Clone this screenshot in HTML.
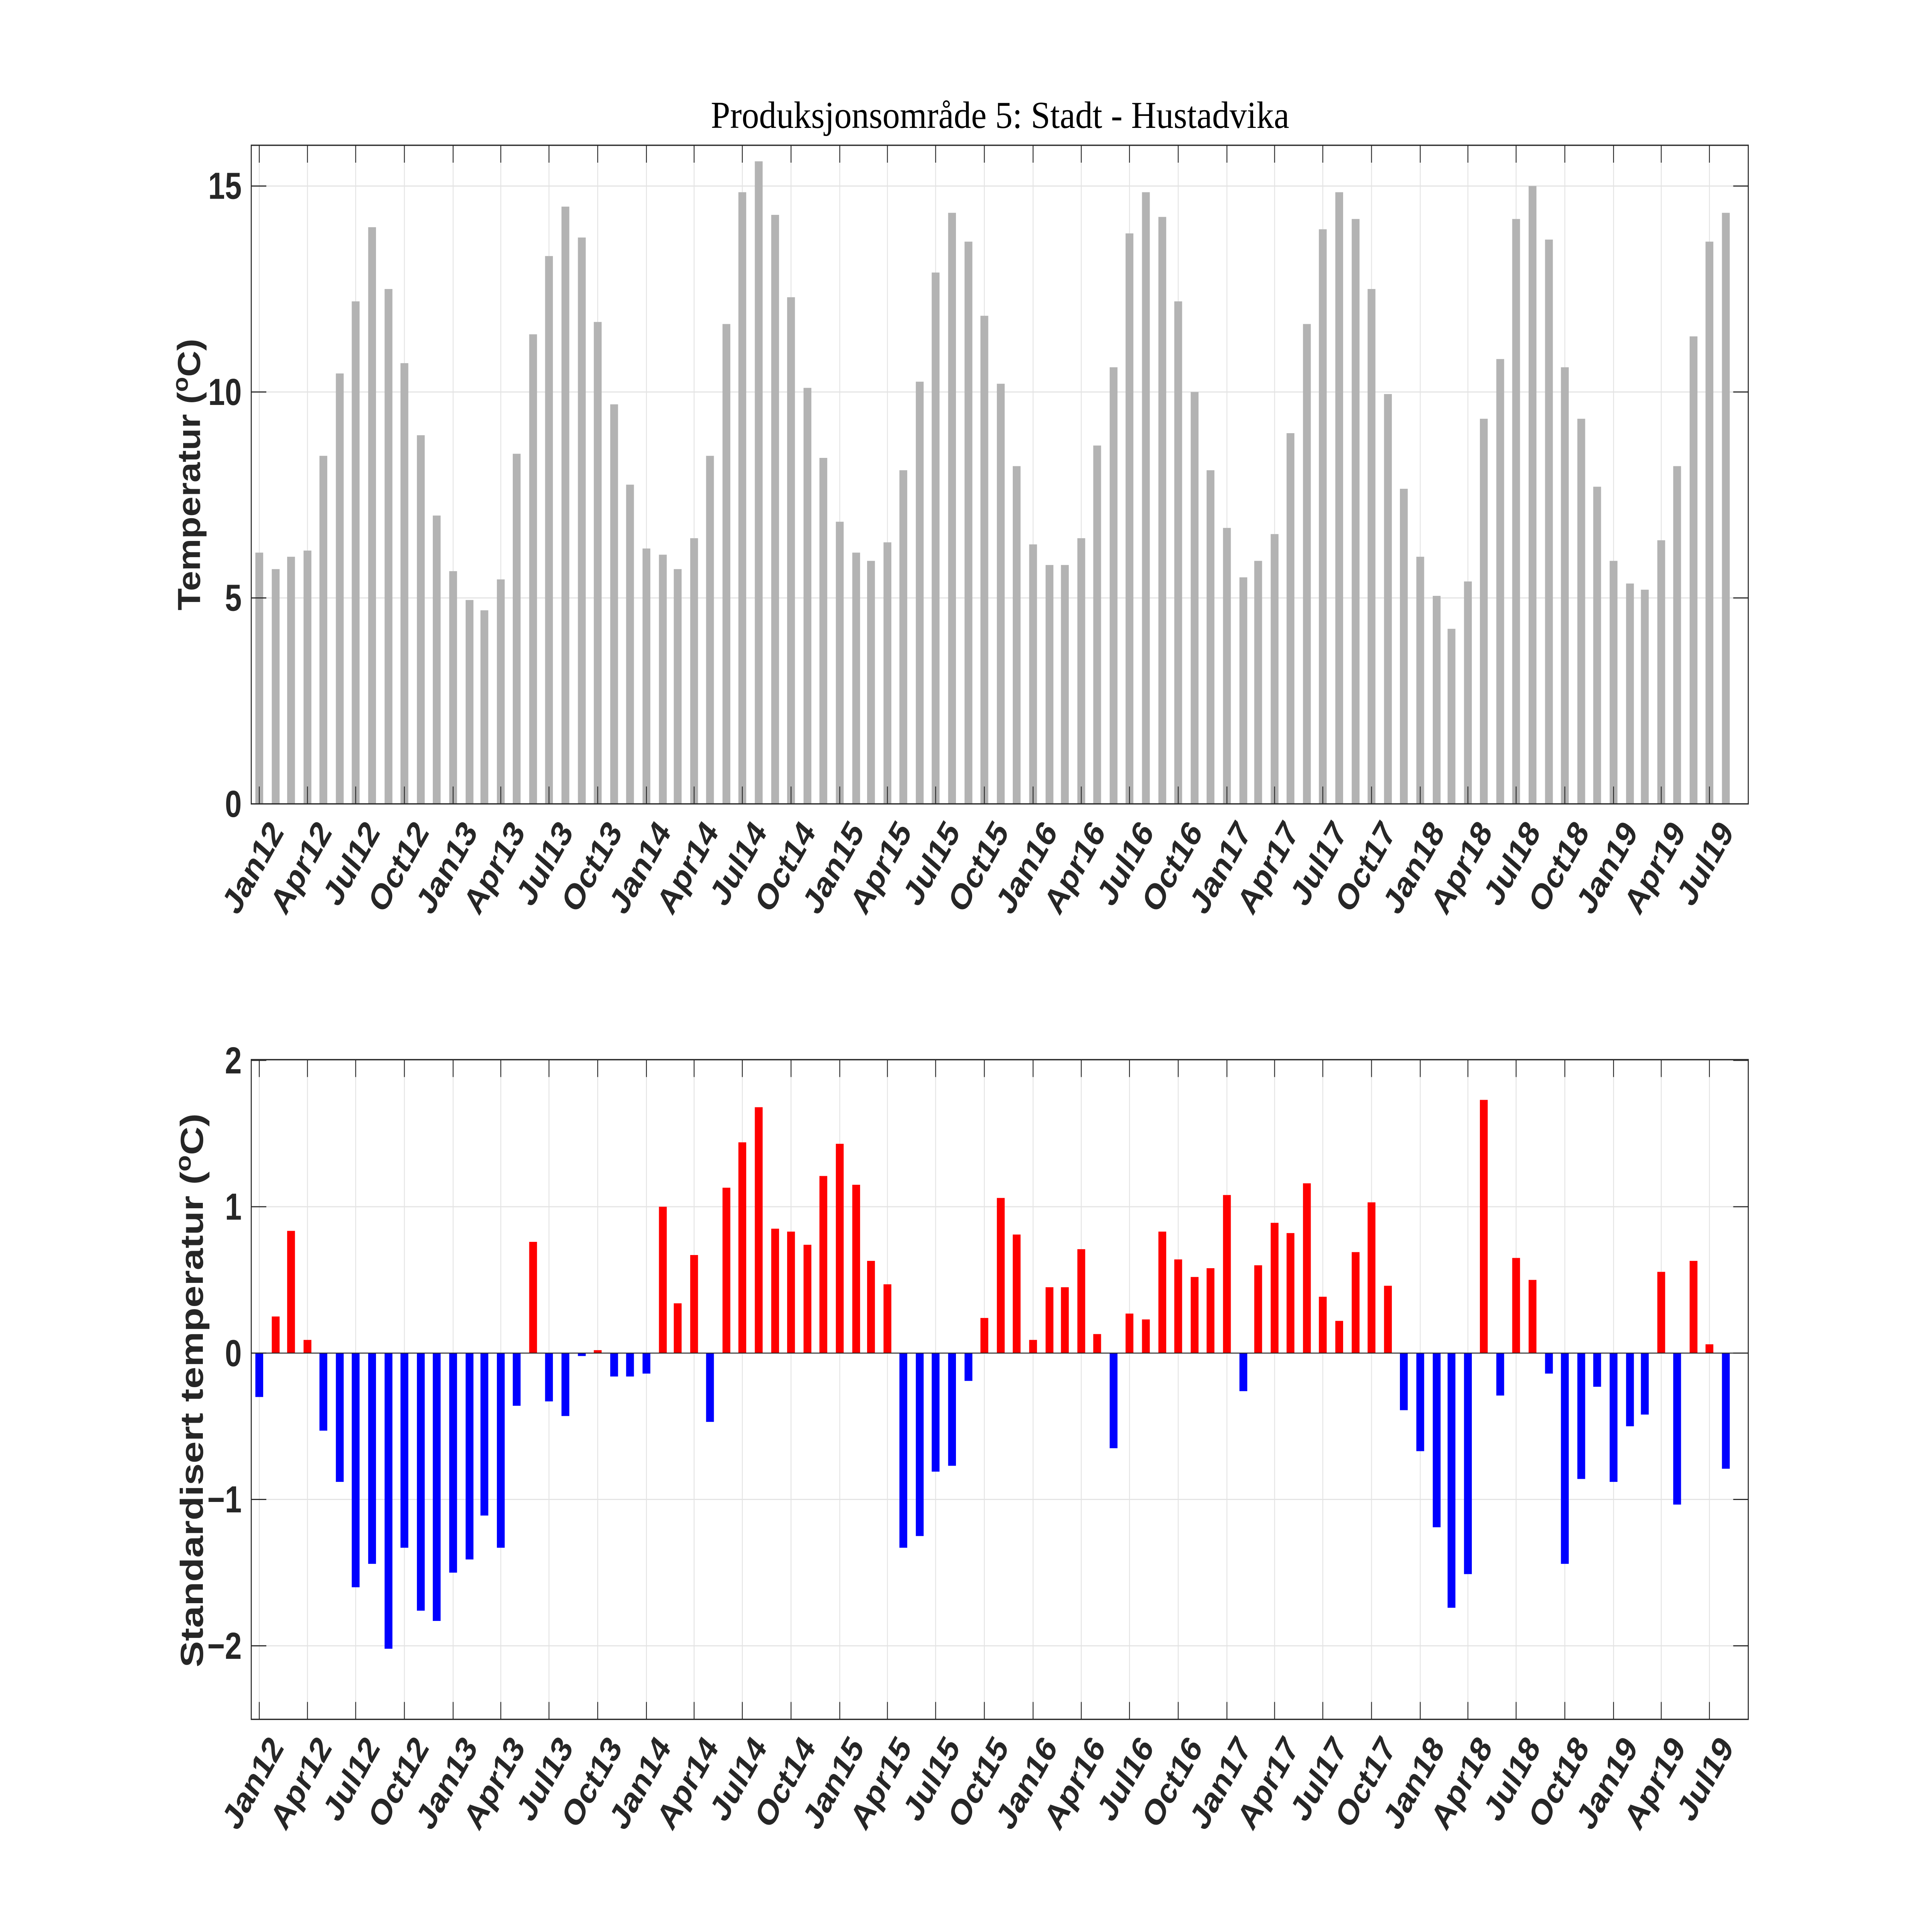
<!DOCTYPE html>
<html><head><meta charset="utf-8"><style>html,body{margin:0;padding:0;background:#fff;width:100%;height:100%;overflow:hidden}svg{display:block;position:absolute;left:0;top:0;width:100vw;height:100vh}</style></head>
<body>
<svg id="s" xmlns="http://www.w3.org/2000/svg" viewBox="0 0 6667 5333" preserveAspectRatio="none">
<rect x="0" y="0" width="6667" height="5333" fill="#fff"/>
<g id="grid"></g>
<g id="bars"></g>
<g id="axes"></g>
<text x="3451" y="353" font-family="Liberation Serif, serif" font-size="105" text-anchor="middle" textLength="1996" lengthAdjust="spacingAndGlyphs" fill="#000">Produksjonsområde 5: Stadt - Hustadvika</text>
<g font-family="Liberation Sans, Arial, sans-serif" font-weight="bold" font-size="104" fill="#262626" text-anchor="end" dominant-baseline="central">
<text x="834" y="2219">0</text><text x="834" y="1650">5</text><text x="834" y="1082">10</text><text x="834" y="513">15</text>
<text x="834" y="2927">2</text><text x="834" y="3331">1</text><text x="834" y="3735">0</text><text x="834" y="4139">−1</text><text x="834" y="4543">−2</text>
</g>
<g font-family="Liberation Sans, Arial, sans-serif" font-weight="bold" font-size="110" fill="#262626" text-anchor="middle">
<text transform="translate(690,1310) rotate(-90)" textLength="750" lengthAdjust="spacingAndGlyphs">Temperatur (<tspan font-size="75" dy="-42">o</tspan><tspan dy="42">C)</tspan></text>
<text transform="translate(700,3838) rotate(-90)" textLength="1529" lengthAdjust="spacingAndGlyphs">Standardisert temperatur (<tspan font-size="75" dy="-42">o</tspan><tspan dy="42">C)</tspan></text>
</g>
<g id="xl" font-family="Liberation Sans, Arial, sans-serif" font-weight="bold" font-size="100" fill="#262626" text-anchor="end">
<text transform="translate(982,2298) rotate(-55)">Jan12</text>
<text transform="translate(1148,2298) rotate(-55)">Apr12</text>
<text transform="translate(1314,2298) rotate(-55)">Jul12</text>
<text transform="translate(1483,2298) rotate(-55)">Oct12</text>
<text transform="translate(1651,2298) rotate(-55)">Jan13</text>
<text transform="translate(1815,2298) rotate(-55)">Apr13</text>
<text transform="translate(1981,2298) rotate(-55)">Jul13</text>
<text transform="translate(2150,2298) rotate(-55)">Oct13</text>
<text transform="translate(2318,2298) rotate(-55)">Jan14</text>
<text transform="translate(2482,2298) rotate(-55)">Apr14</text>
<text transform="translate(2649,2298) rotate(-55)">Jul14</text>
<text transform="translate(2817,2298) rotate(-55)">Oct14</text>
<text transform="translate(2985,2298) rotate(-55)">Jan15</text>
<text transform="translate(3149,2298) rotate(-55)">Apr15</text>
<text transform="translate(3316,2298) rotate(-55)">Jul15</text>
<text transform="translate(3484,2298) rotate(-55)">Oct15</text>
<text transform="translate(3652,2298) rotate(-55)">Jan16</text>
<text transform="translate(3818,2298) rotate(-55)">Apr16</text>
<text transform="translate(3985,2298) rotate(-55)">Jul16</text>
<text transform="translate(4153,2298) rotate(-55)">Oct16</text>
<text transform="translate(4321,2298) rotate(-55)">Jan17</text>
<text transform="translate(4485,2298) rotate(-55)">Apr17</text>
<text transform="translate(4652,2298) rotate(-55)">Jul17</text>
<text transform="translate(4820,2298) rotate(-55)">Oct17</text>
<text transform="translate(4988,2298) rotate(-55)">Jan18</text>
<text transform="translate(5153,2298) rotate(-55)">Apr18</text>
<text transform="translate(5319,2298) rotate(-55)">Jul18</text>
<text transform="translate(5487,2298) rotate(-55)">Oct18</text>
<text transform="translate(5655,2298) rotate(-55)">Jan19</text>
<text transform="translate(5820,2298) rotate(-55)">Apr19</text>
<text transform="translate(5986,2298) rotate(-55)">Jul19</text>
<text transform="translate(982,4825) rotate(-55)">Jan12</text>
<text transform="translate(1148,4825) rotate(-55)">Apr12</text>
<text transform="translate(1314,4825) rotate(-55)">Jul12</text>
<text transform="translate(1483,4825) rotate(-55)">Oct12</text>
<text transform="translate(1651,4825) rotate(-55)">Jan13</text>
<text transform="translate(1815,4825) rotate(-55)">Apr13</text>
<text transform="translate(1981,4825) rotate(-55)">Jul13</text>
<text transform="translate(2150,4825) rotate(-55)">Oct13</text>
<text transform="translate(2318,4825) rotate(-55)">Jan14</text>
<text transform="translate(2482,4825) rotate(-55)">Apr14</text>
<text transform="translate(2649,4825) rotate(-55)">Jul14</text>
<text transform="translate(2817,4825) rotate(-55)">Oct14</text>
<text transform="translate(2985,4825) rotate(-55)">Jan15</text>
<text transform="translate(3149,4825) rotate(-55)">Apr15</text>
<text transform="translate(3316,4825) rotate(-55)">Jul15</text>
<text transform="translate(3484,4825) rotate(-55)">Oct15</text>
<text transform="translate(3652,4825) rotate(-55)">Jan16</text>
<text transform="translate(3818,4825) rotate(-55)">Apr16</text>
<text transform="translate(3985,4825) rotate(-55)">Jul16</text>
<text transform="translate(4153,4825) rotate(-55)">Oct16</text>
<text transform="translate(4321,4825) rotate(-55)">Jan17</text>
<text transform="translate(4485,4825) rotate(-55)">Apr17</text>
<text transform="translate(4652,4825) rotate(-55)">Jul17</text>
<text transform="translate(4820,4825) rotate(-55)">Oct17</text>
<text transform="translate(4988,4825) rotate(-55)">Jan18</text>
<text transform="translate(5153,4825) rotate(-55)">Apr18</text>
<text transform="translate(5319,4825) rotate(-55)">Jul18</text>
<text transform="translate(5487,4825) rotate(-55)">Oct18</text>
<text transform="translate(5655,4825) rotate(-55)">Jan19</text>
<text transform="translate(5820,4825) rotate(-55)">Apr19</text>
<text transform="translate(5986,4825) rotate(-55)">Jul19</text>
</g>
</svg>
<script>
(function(){
var NS="http://www.w3.org/2000/svg";
function el(p,t,a){var e=document.createElementNS(NS,t);for(var k in a)e.setAttribute(k,a[k]);p.appendChild(e);return e;}
var grid=document.getElementById('grid'),bars=document.getElementById('bars'),axes=document.getElementById('axes');
var X0=894.7,PD=1.8277,L=867,R=6033;
function dx(y,m){return X0+PD*(Date.UTC(y,m,1)-Date.UTC(2012,0,1))/86400000;}
var T=[{top:401,bot:2219,y0:2219,k:113.7,yt:[0,5,10,15]},{top:2925,bot:4746,y0:3735,k:404,yt:[-2,-1,0,1,2]}];
var temp=[6.1,5.7,6.0,6.15,8.45,10.45,12.2,14.0,12.5,10.7,8.95,7.0,
5.65,4.95,4.7,5.45,8.5,11.4,13.3,14.5,13.75,11.7,9.7,7.75,
6.2,6.05,5.7,6.45,8.45,11.65,14.85,15.6,14.3,12.3,10.1,8.4,
6.85,6.1,5.9,6.35,8.1,10.25,12.9,14.35,13.65,11.85,10.2,8.2,
6.3,5.8,5.8,6.45,8.7,10.6,13.85,14.85,14.25,12.2,10.0,8.1,
6.7,5.5,5.9,6.55,9.0,11.65,13.95,14.85,14.2,12.5,9.95,7.65,
6.0,5.05,4.25,5.4,9.35,10.8,14.2,15.0,13.7,10.6,9.35,7.7,
5.9,5.35,5.2,6.4,8.2,11.35,13.65,14.35];
var st=[-0.30,0.25,0.835,0.09,-0.53,-0.88,-1.60,-1.44,-2.02,-1.33,-1.76,-1.83,
-1.50,-1.41,-1.11,-1.33,-0.36,0.76,-0.33,-0.43,-0.02,0.02,-0.16,-0.16,
-0.14,1.0,0.34,0.67,-0.47,1.13,1.44,1.68,0.85,0.83,0.74,1.21,
1.43,1.15,0.63,0.47,-1.33,-1.25,-0.81,-0.77,-0.19,0.24,1.06,0.81,
0.09,0.45,0.45,0.71,0.13,-0.65,0.27,0.23,0.83,0.64,0.52,0.58,
1.08,-0.26,0.60,0.89,0.82,1.16,0.385,0.22,0.69,1.03,0.46,-0.39,
-0.67,-1.19,-1.74,-1.51,1.73,-0.29,0.65,0.50,-0.14,-1.44,-0.86,-0.23,
-0.88,-0.50,-0.42,0.555,-1.035,0.63,0.06,-0.79];
var ticks=[];for(var y=2012;y<=2019;y++)for(var m=0;m<12;m+=3){if(y==2019&&m>6)break;ticks.push(dx(y,m));}
T.forEach(function(a,ai){
 ticks.forEach(function(x){el(grid,'line',{x1:x,x2:x,y1:a.top,y2:a.bot,stroke:'#e3e3e3','stroke-width':3});});
 a.yt.forEach(function(v){var y=a.y0-v*a.k;el(grid,'line',{x1:L,x2:R,y1:y,y2:y,stroke:'#e3e3e3','stroke-width':3});});
 var data=ai==0?temp:st;
 for(var i=0;i<data.length;i++){var x=dx(2012+Math.floor(i/12),i%12);var v=data[i];var y1=a.y0-v*a.k;
  var col=ai==0?'#b3b3b3':(v>=0?'#ff0000':'#0000ff');
  el(bars,'rect',{x:x-13.5,width:27,y:Math.min(y1,a.y0),height:Math.abs(y1-a.y0),fill:col});}
 if(ai==1)el(axes,'line',{x1:L,x2:R,y1:a.y0,y2:a.y0,stroke:'#262626','stroke-width':2.5});
 ticks.forEach(function(x){el(axes,'line',{x1:x,x2:x,y1:a.top,y2:a.top+48,stroke:'#262626','stroke-width':3});el(axes,'line',{x1:x,x2:x,y1:a.bot,y2:a.bot-48,stroke:'#262626','stroke-width':3});});
 a.yt.forEach(function(v){var y=a.y0-v*a.k;el(axes,'line',{x1:L,x2:L+52,y1:y,y2:y,stroke:'#262626','stroke-width':3});el(axes,'line',{x1:R,x2:R-52,y1:y,y2:y,stroke:'#262626','stroke-width':3});});
 el(axes,'rect',{x:L,y:a.top,width:R-L,height:a.bot-a.top,fill:'none',stroke:'#262626','stroke-width':3.5});
});
})();
</script>
</body></html>
